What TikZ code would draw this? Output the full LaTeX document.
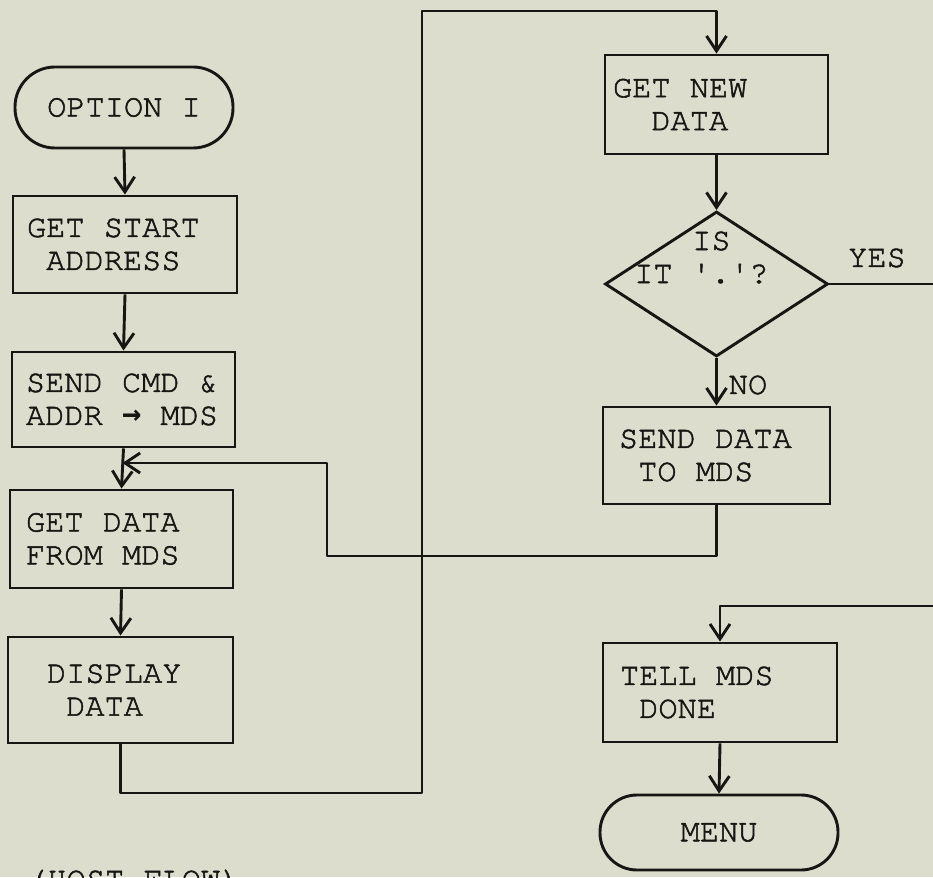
\documentclass[tikz,border=0pt]{standalone}
\usepackage{fontspec}
\setmonofont{TeX Gyre Cursor}[FakeBold=1.6]
\newfontfamily\dvm{DejaVu Sans Mono}
\usetikzlibrary{arrows.meta,shapes.geometric}
\definecolor{paper}{RGB}{221,221,205}
\definecolor{ink}{RGB}{22,22,20}
\newcommand{\tsp}{\hphantom{I}}
\begin{document}
\begin{tikzpicture}[x=1pt,y=-1pt,
  every node/.style={font=\ttfamily\fontsize{32}{33}\selectfont, text=ink},
  ln/.style={draw=ink, line width=2.9pt, line join=round},
  arr/.style={ln, -{Straight Barb[length=15pt,width=20pt]}},
  box/.style={draw=ink, line width=2.9pt, rectangle, align=left, inner ysep=0pt},
  term/.style={draw=ink, line width=2.9pt, rectangle, align=center, inner sep=0pt}]
\useasboundingbox (0,0) rectangle (933,877);
\clip (0,0) rectangle (933,877);
\fill[paper] (0,0) rectangle (933,877);

% left column
\node[term, minimum width=218pt, minimum height=81pt, rounded corners=40pt] (opt) at (124,107.5) {OPTION\tsp I};
\node[box, minimum height=97pt, text width=196pt, inner xsep=14pt] (gsa) at (125,244.5) {GET\tsp START\\\tsp ADDRESS};
\node[box, minimum height=95pt, text width=195pt, inner xsep=14pt] (scmd) at (123.5,399.5) {SEND\tsp CMD\tsp\&\\ADDR\tsp{\dvm\bfseries →}\tsp MDS};
\node[box, minimum height=98pt, text width=191pt, inner xsep=16pt] (gdata) at (121.5,539) {GET\tsp DATA\\FROM\tsp MDS};
\node[box, minimum height=106pt, text width=147pt, inner xsep=39pt] (disp) at (120.5,690) {DISPLAY\\\tsp DATA};

% right column
\node[box, minimum height=99pt, text width=207pt, inner xsep=8pt] (gnew) at (716.5,104.5) {GET\tsp NEW\\\tsp\tsp DATA};
\node[draw=ink, line width=2.9pt, diamond, minimum width=223pt, minimum height=145pt, inner sep=0pt] (dia) at (716.5,284) {};
\node[anchor=base west, inner sep=0pt] (dq1) at (692,250) {IS};
\node[anchor=base west, inner sep=0pt] (dq2) at (634,283) {IT\tsp'.'?};
\node (yes) at (877,258) {YES};
\node (no) at (748,385) {NO};
\node[box, minimum height=97pt, text width=195pt, inner xsep=16pt] (sdata) at (716.5,455.5) {SEND\tsp DATA\\\tsp TO\tsp MDS};
\node[box, minimum height=99pt, text width=200pt, inner xsep=17pt] (tell) at (720,692.5) {TELL\tsp MDS\\\tsp DONE};
\node[term, minimum width=238pt, minimum height=75pt, rounded corners=37pt] (menu) at (719,832.5) {MENU};

\node[anchor=base west, inner sep=0pt] (host) at (28,889) {(HOST\tsp FLOW)};

% connectors
\coordinate (j) at (122.5,463);
\coordinate (fb) at (327,556);
\coordinate (lp1) at (422,793);
\coordinate (lp2) at (422,11);
\coordinate (yesend) at (945,284);
\coordinate (tin) at (945,606);

\draw[arr] (opt.south) -- (gsa.north);
\draw[arr] (gsa.south) -- (scmd.north);
\draw[arr] (scmd.south) -- (gdata.north);
\draw[arr] (gdata.south) -- (disp.north);
\draw[arr] (sdata.south) |- (fb) |- (j);
\draw[arr] (disp.south) |- (lp1) -- (lp2) -| (gnew.north);
\draw[arr] (gnew.south) -- (dia.north);
\draw[arr] (dia.south) -- (sdata.north);
\draw[ln] (dia.east) -- (yesend);
\draw[arr] (tin) -| (tell.north);
\draw[arr] (tell.south) -- (menu.north);
\end{tikzpicture}
\end{document}
